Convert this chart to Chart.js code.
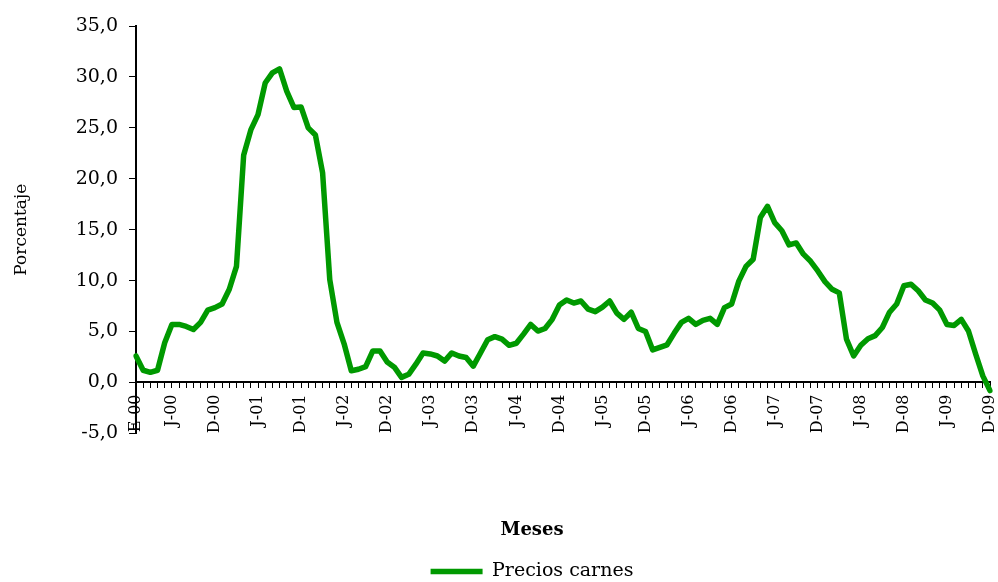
<!DOCTYPE html>
<html lang="es">
<head>
<meta charset="utf-8">
<title>Precios carnes</title>
<script src="https://cdn.jsdelivr.net/npm/chart.js@4.4.1/dist/chart.umd.min.js"></script>
<style>
    html, body { margin: 0; padding: 0; background: #ffffff; }
    #contenedor { width: 998px; height: 582px; position: relative; }
</style>
</head>
<body>
<div id="contenedor"><canvas id="grafica"></canvas></div>
<script>
// Iniciales de los meses (E = enero ... D = diciembre)
const INICIALES = ["E", "F", "M", "A", "M", "J", "J", "A", "S", "O", "N", "D"];
const ANIOS = ["00", "01", "02", "03", "04", "05", "06", "07", "08", "09"];

// Posiciones (índice de mes) donde aparece etiqueta en el eje X
const ETIQUETAS_VISIBLES = [0, 5, 11, 17, 23, 29, 35, 41, 47, 53, 59, 65, 71, 77, 83, 89, 95, 101, 107, 113, 119];

// Variación de precios de carnes (%), enero 2000 - diciembre 2009
const preciosCarnes = [
    2.6, 1.2, 1.0, 1.2, 3.9, 5.7, 5.7, 5.5, 5.2, 5.9, 7.1, 7.35,
    7.7, 9.15, 11.4, 22.3, 24.8, 26.3, 29.4, 30.4, 30.8, 28.6, 27.0, 27.05,
    25.0, 24.3, 20.6, 10.1, 5.9, 3.8, 1.15, 1.3, 1.55, 3.1, 3.1, 2.0,
    1.5, 0.5, 0.8, 1.8, 2.9, 2.8, 2.6, 2.1, 2.9, 2.6, 2.45, 1.6,
    2.9, 4.2, 4.5, 4.25, 3.65, 3.85, 4.75, 5.7, 5.05, 5.3, 6.2, 7.6,
    8.1, 7.8, 8.0, 7.2, 6.95, 7.4, 8.0, 6.8, 6.2, 6.9, 5.3, 5.0,
    3.2, 3.45, 3.7, 4.85, 5.9, 6.3, 5.7, 6.1, 6.3, 5.7, 7.35, 7.7,
    9.95, 11.4, 12.1, 16.2, 17.3, 15.7, 14.9, 13.5, 13.7, 12.6, 11.9, 10.95,
    9.9, 9.15, 8.8, 4.25, 2.6, 3.65, 4.3, 4.6, 5.4, 6.9, 7.7, 9.5,
    9.65, 9.0, 8.1, 7.8, 7.1, 5.7, 5.6, 6.2, 5.05, 2.8, 0.65, -0.8
];

const meses = [];
ANIOS.forEach(a => INICIALES.forEach(m => meses.push(m + "-" + a)));

const FUENTE = "'DejaVu Serif', 'Liberation Serif', serif";
const VERDE = "#009900";

// El margen izquierdo desplaza título y leyenda hacia la derecha, como en el original
const MARGEN_IZQ = 74;

new Chart(document.getElementById("grafica"), {
    type: "line",
    data: {
        labels: meses,
        datasets: [{
            label: "Precios carnes",
            data: preciosCarnes,
            borderColor: VERDE,
            backgroundColor: VERDE,
            borderWidth: 5.5,
            borderCapStyle: "round",
            borderJoinStyle: "round",
            pointRadius: 0,
            tension: 0,
            fill: false
        }]
    },
    options: {
        responsive: true,
        maintainAspectRatio: false,
        animation: false,
        layout: { padding: { top: 26, right: 8, bottom: -9, left: MARGEN_IZQ } },
        scales: {
            x: {
                position: { y: 0 },
                offset: false,
                afterFit: escala => { escala.paddingLeft = 0; escala.paddingRight = 0; },
                grid: {
                    drawOnChartArea: false,
                    drawTicks: true,
                    tickLength: 5,
                    color: "#000000",
                    lineWidth: 1
                },
                border: { display: true, color: "#000000", width: 2 },
                ticks: {
                    autoSkip: false,
                    minRotation: 90,
                    maxRotation: 90,
                    padding: 7,
                    color: "#000000",
                    font: { family: FUENTE, size: 16 },
                    callback: function(valor, indice) {
                        return ETIQUETAS_VISIBLES.includes(indice) ? this.getLabelForValue(valor) : "";
                    }
                }
            },
            y: {
                min: -5,
                max: 35,
                afterFit: escala => { escala.width = 136 - MARGEN_IZQ; },
                grid: {
                    drawOnChartArea: false,
                    drawTicks: true,
                    tickLength: 7,
                    color: "#000000",
                    lineWidth: 1
                },
                border: { display: true, color: "#000000", width: 2 },
                ticks: {
                    stepSize: 5,
                    padding: 11,
                    color: "#000000",
                    font: { family: FUENTE, size: 19 },
                    callback: valor => valor.toFixed(1).replace(".", ",")
                },
                title: {
                    display: true,
                    text: "Porcentaje",
                    color: "#000000",
                    // título pegado al borde izquierdo del lienzo (x ≈ 22)
                    padding: { top: 22 - MARGEN_IZQ - 10.2, bottom: 0 },
                    font: { family: FUENTE, size: 17 }
                }
            }
        },
        plugins: {
            title: {
                display: true,
                text: "Meses",
                position: "bottom",
                weight: 500,
                color: "#000000",
                padding: { top: 86, bottom: 19 },
                font: { family: FUENTE, size: 18, weight: "bold" }
            },
            legend: {
                position: "bottom",
                labels: {
                    color: "#000000",
                    usePointStyle: true,
                    pointStyle: "line",
                    pointStyleWidth: 52,
                    padding: 2,
                    font: { family: FUENTE, size: 19 }
                }
            },
            tooltip: { enabled: false }
        }
    }
});
</script>
</body>
</html>
